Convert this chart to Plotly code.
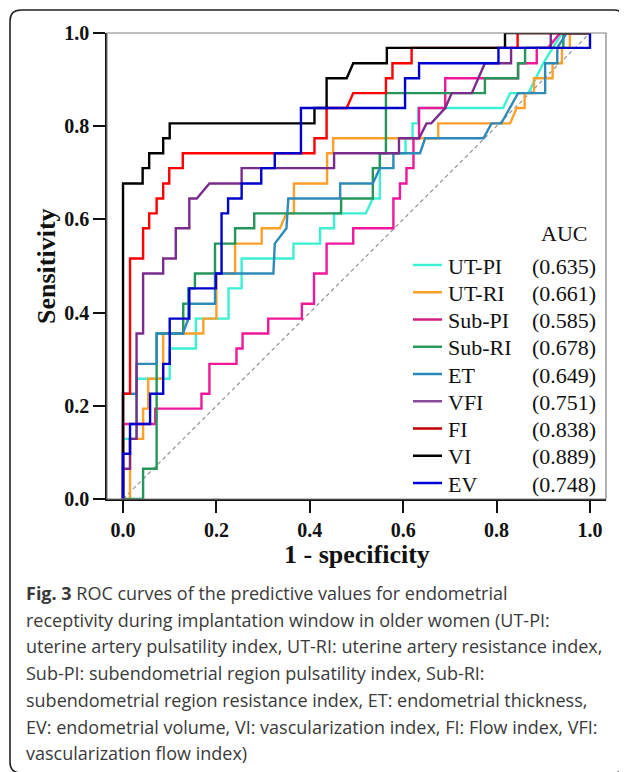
import plotly.graph_objects as go

# ---------------- data ----------------
series_names = ["UT-PI", "UT-RI", "Sub-PI", "Sub-RI", "ET", "VFI", "FI", "VI", "EV"]
auc_values = ["(0.635)", "(0.661)", "(0.585)", "(0.678)", "(0.649)", "(0.751)", "(0.838)", "(0.889)", "(0.748)"]
tick_values = [0.0, 0.2, 0.4, 0.6, 0.8, 1.0]
tick_labels = ["0.0", "0.2", "0.4", "0.6", "0.8", "1.0"]

ut_pi_x = [0, 0, 0.029, 0.029, 0.1, 0.1, 0.156, 0.156, 0.226, 0.226, 0.254, 0.254, 0.365, 0.365, 0.422, 0.422,
           0.452, 0.452, 0.52, 0.535, 0.55, 0.55, 0.605, 0.605, 0.62, 0.62, 0.632, 0.632, 0.814, 0.829, 0.868,
           0.9, 0.92, 0.94, 1.0]
ut_pi_y = [0, 0.129, 0.129, 0.258, 0.258, 0.323, 0.323, 0.387, 0.387, 0.452, 0.452, 0.516, 0.516, 0.548, 0.548,
           0.581, 0.581, 0.613, 0.613, 0.645, 0.645, 0.742, 0.742, 0.774, 0.774, 0.806, 0.806, 0.839, 0.839, 0.871,
           0.871, 0.935, 0.968, 1.0, 1.0]

ut_ri_x = [0, 0.015, 0.015, 0.043, 0.043, 0.054, 0.054, 0.086, 0.086, 0.172, 0.172, 0.2, 0.2, 0.24, 0.24, 0.297,
           0.297, 0.336, 0.35, 0.366, 0.366, 0.437, 0.437, 0.45, 0.45, 0.675, 0.675, 0.829, 0.843, 0.86, 0.86,
           0.88, 0.88, 0.92, 0.92, 0.94, 0.94, 0.957, 0.957, 1.0]
ut_ri_y = [0, 0, 0.129, 0.129, 0.194, 0.194, 0.258, 0.258, 0.355, 0.355, 0.387, 0.387, 0.484, 0.484, 0.548, 0.548,
           0.581, 0.581, 0.613, 0.613, 0.677, 0.677, 0.742, 0.742, 0.774, 0.774, 0.806, 0.806, 0.839, 0.839, 0.871,
           0.871, 0.903, 0.903, 0.935, 0.935, 0.968, 0.968, 1.0, 1.0]

sub_pi_x = [0, 0, 0.069, 0.069, 0.168, 0.168, 0.185, 0.185, 0.243, 0.243, 0.256, 0.256, 0.311, 0.311, 0.383,
            0.383, 0.409, 0.409, 0.436, 0.436, 0.493, 0.493, 0.579, 0.579, 0.593, 0.593, 0.607, 0.607, 0.622,
            0.622, 0.634, 0.634, 0.69, 0.69, 0.846, 0.846, 0.886, 0.886, 0.91, 0.936, 1.0]
sub_pi_y = [0, 0.161, 0.161, 0.194, 0.194, 0.226, 0.226, 0.29, 0.29, 0.323, 0.323, 0.355, 0.355, 0.387, 0.387,
            0.419, 0.419, 0.484, 0.484, 0.548, 0.548, 0.581, 0.581, 0.645, 0.645, 0.677, 0.677, 0.71, 0.71,
            0.774, 0.774, 0.839, 0.839, 0.903, 0.903, 0.935, 0.935, 0.968, 0.968, 1.0, 1.0]

sub_ri_x = [0, 0.043, 0.043, 0.072, 0.072, 0.129, 0.129, 0.14, 0.14, 0.154, 0.154, 0.197, 0.197, 0.24, 0.24,
            0.281, 0.281, 0.467, 0.467, 0.535, 0.535, 0.55, 0.55, 0.563, 0.563, 0.775, 0.775, 0.846, 0.846,
            0.861, 0.861, 0.943, 0.943, 1.0]
sub_ri_y = [0, 0, 0.065, 0.065, 0.355, 0.355, 0.419, 0.419, 0.452, 0.452, 0.484, 0.484, 0.548, 0.548, 0.581,
            0.581, 0.613, 0.613, 0.645, 0.645, 0.71, 0.71, 0.742, 0.742, 0.871, 0.871, 0.903, 0.903, 0.935,
            0.935, 0.968, 0.968, 1.0, 1.0]

et_x = [0, 0, 0.029, 0.029, 0.072, 0.072, 0.128, 0.14, 0.14, 0.197, 0.197, 0.322, 0.325, 0.35, 0.354, 0.465,
        0.465, 0.535, 0.55, 0.579, 0.579, 0.636, 0.647, 0.772, 0.789, 0.81, 0.846, 0.904, 0.904, 0.93, 0.93,
        0.95, 1.0]
et_y = [0, 0.226, 0.226, 0.29, 0.29, 0.355, 0.355, 0.387, 0.419, 0.419, 0.484, 0.484, 0.548, 0.581, 0.645,
        0.645, 0.677, 0.677, 0.71, 0.71, 0.742, 0.742, 0.774, 0.774, 0.806, 0.806, 0.871, 0.871, 0.935, 0.935,
        0.968, 1.0, 1.0]

vfi_x = [0, 0, 0.015, 0.015, 0.029, 0.029, 0.043, 0.043, 0.086, 0.086, 0.113, 0.113, 0.142, 0.142, 0.158,
         0.185, 0.254, 0.254, 0.452, 0.452, 0.591, 0.591, 0.634, 0.65, 0.66, 0.69, 0.704, 0.747, 0.775, 0.831,
         0.831, 0.916, 0.916, 1.0]
vfi_y = [0, 0.065, 0.065, 0.129, 0.129, 0.355, 0.355, 0.484, 0.484, 0.516, 0.516, 0.581, 0.581, 0.645, 0.645,
         0.677, 0.677, 0.71, 0.71, 0.742, 0.742, 0.774, 0.774, 0.806, 0.806, 0.839, 0.871, 0.871, 0.935, 0.935,
         0.968, 0.968, 1.0, 1.0]

fi_x = [0, 0, 0.015, 0.015, 0.043, 0.043, 0.056, 0.056, 0.072, 0.072, 0.086, 0.086, 0.099, 0.099, 0.128, 0.128,
        0.41, 0.41, 0.436, 0.436, 0.479, 0.493, 0.563, 0.563, 0.577, 0.577, 0.618, 0.618, 0.845, 0.845, 1.0]
fi_y = [0, 0.226, 0.226, 0.516, 0.516, 0.581, 0.581, 0.613, 0.613, 0.645, 0.645, 0.677, 0.677, 0.71, 0.71, 0.742,
        0.742, 0.774, 0.774, 0.839, 0.839, 0.871, 0.871, 0.903, 0.903, 0.935, 0.935, 0.968, 0.968, 1.0, 1.0]

vi_x = [0, 0, 0.042, 0.042, 0.056, 0.056, 0.086, 0.086, 0.1, 0.1, 0.41, 0.41, 0.436, 0.436, 0.479, 0.493, 0.565,
        0.565, 0.818, 0.818, 1.0]
vi_y = [0, 0.677, 0.677, 0.71, 0.71, 0.742, 0.742, 0.774, 0.774, 0.806, 0.806, 0.839, 0.839, 0.903, 0.903, 0.935,
        0.935, 0.968, 0.968, 1.0, 1.0]

ev_x = [0, 0, 0.015, 0.015, 0.058, 0.058, 0.086, 0.086, 0.1, 0.1, 0.142, 0.142, 0.199, 0.199, 0.211, 0.211,
        0.225, 0.225, 0.254, 0.254, 0.296, 0.296, 0.325, 0.325, 0.381, 0.381, 0.604, 0.604, 0.634, 0.634, 0.804,
        0.804, 1.0, 1.0]
ev_y = [0, 0.097, 0.097, 0.161, 0.161, 0.226, 0.226, 0.29, 0.29, 0.387, 0.387, 0.452, 0.452, 0.484, 0.484,
        0.613, 0.613, 0.645, 0.645, 0.677, 0.677, 0.71, 0.71, 0.742, 0.742, 0.839, 0.839, 0.903, 0.903, 0.935,
        0.935, 0.968, 0.968, 1.0]

ref_x = [0, 1]
ref_y = [0, 1]

curves_x = [ut_pi_x, ut_ri_x, sub_pi_x, sub_ri_x, et_x, vfi_x, fi_x, vi_x, ev_x]
curves_y = [ut_pi_y, ut_ri_y, sub_pi_y, sub_ri_y, et_y, vfi_y, fi_y, vi_y, ev_y]

caption_lines = [
    "<b>Fig. 3</b> ROC curves of the predictive values for endometrial",
    "receptivity during implantation window in older women (UT-PI:",
    "uterine artery pulsatility index, UT-RI: uterine artery resistance index,",
    "Sub-PI: subendometrial region pulsatility index, Sub-RI:",
    "subendometrial region resistance index, ET: endometrial thickness,",
    "EV: endometrial volume, VI: vascularization index, FI: Flow index, VFI:",
    "vascularization flow index)",
]

# ---------------- styles ----------------
line_colors = ["#3CF0D4", "#FFA02A", "#F0189A", "#24965A", "#2E8AB8", "#7A2C8C", "#FF0000", "#000000", "#0000CC"]
key_colors = ["#3CF0D4", "#FFA02A", "#D0207F", "#2A9A5C", "#2A88B8", "#8A4A9A", "#C00000", "#000000", "#0000DD"]

# page body has an 8px margin; work in window pixels and shift into figure pixels
OFF = 8
W, H = 627 - OFF, 772 - OFF
L, R, T, B = 107 - OFF, 606 - OFF, 33 - OFF, 499 - OFF


def px(x):
    return (x - OFF - L) / (R - L)


def py(y):
    return (B - (y - OFF)) / (B - T)


fig = go.Figure()
fig.add_trace(go.Scatter(x=ref_x, y=ref_y, mode="lines",
                         line=dict(color="#9a9a9a", width=1.3, dash="4px,3px"),
                         showlegend=False, hoverinfo="skip"))
for nm, xs, ys, c in zip(series_names, curves_x, curves_y, line_colors):
    fig.add_trace(go.Scatter(x=xs, y=ys, mode="lines", name=nm,
                             line=dict(color=c, width=2.4), showlegend=False))

serif = "Liberation Serif"
annotations = []
# axis titles
annotations.append(dict(x=px(357), y=py(554), xref="paper", yref="paper", text="1 - specificity",
                        showarrow=False, xanchor="center", yanchor="middle",
                        font=dict(family=serif, size=26, color="#111", weight="bold")))
annotations.append(dict(x=px(46), y=py(266), xref="paper", yref="paper", text="Sensitivity", textangle=-90,
                        showarrow=False, xanchor="center", yanchor="middle",
                        font=dict(family=serif, size=26, color="#111", weight="bold")))
# legend
annotations.append(dict(x=px(564), y=py(233), xref="paper", yref="paper", text="AUC", showarrow=False,
                        xanchor="center", yanchor="middle", font=dict(family=serif, size=22, color="#111")))
shapes = []
for i, (nm, auc, kc) in enumerate(zip(series_names, auc_values, key_colors)):
    yy = 265 + 27.25 * i
    shapes.append(dict(type="line", xref="paper", yref="paper", x0=px(413), x1=px(442), y0=py(yy), y1=py(yy),
                       line=dict(color=kc, width=2.5)))
    annotations.append(dict(x=px(446), y=py(yy + 1), xref="paper", yref="paper", text=nm, showarrow=False,
                            xanchor="left", yanchor="middle", font=dict(family=serif, size=22, color="#111")))
    annotations.append(dict(x=px(598), y=py(yy + 1), xref="paper", yref="paper", text=auc, showarrow=False,
                            xanchor="right", yanchor="middle", font=dict(family=serif, size=22, color="#111")))

# caption
for i, line in enumerate(caption_lines):
    yy = 593 + 26.7 * i
    annotations.append(dict(x=px(24), y=py(yy), xref="paper", yref="paper", text=line, showarrow=False,
                            xanchor="left", yanchor="middle",
                            font=dict(family="Open Sans", size=18, color="#3a3a3a")))

# plot frame (top/right grey)
shapes.append(dict(type="rect", xref="paper", yref="paper", x0=0, x1=1, y0=0, y1=1,
                   line=dict(color="#808080", width=1.2), layer="above"))

# rounded outer box
bx0, bx1, by0, by1, rr = 10, 625, 10, 773, 11
path = (f"M {px(bx0 + rr)},{py(by0)} L {px(bx1 - rr)},{py(by0)} Q {px(bx1)},{py(by0)} {px(bx1)},{py(by0 + rr)} "
        f"L {px(bx1)},{py(by1 - rr)} Q {px(bx1)},{py(by1)} {px(bx1 - rr)},{py(by1)} "
        f"L {px(bx0 + rr)},{py(by1)} Q {px(bx0)},{py(by1)} {px(bx0)},{py(by1 - rr)} "
        f"L {px(bx0)},{py(by0 + rr)} Q {px(bx0)},{py(by0)} {px(bx0 + rr)},{py(by0)} Z")
shapes.append(dict(type="path", xref="paper", yref="paper", path=path, line=dict(color="#222", width=1.6)))

axis_common = dict(showgrid=False, zeroline=False, showline=True, linecolor="#111", linewidth=1.6,
                   ticks="outside", ticklen=12, tickwidth=1.6, tickcolor="#111",
                   tickvals=tick_values, ticktext=tick_labels,
                   tickfont=dict(family=serif, size=20, color="#111", weight="bold"))

fig.update_layout(
    width=W, height=H,
    margin=dict(l=L, r=W - R, t=T, b=H - B, pad=0),
    paper_bgcolor="white", plot_bgcolor="white",
    xaxis=dict(range=[-0.0343, 1.0343], **axis_common),
    yaxis=dict(range=[0, 1], **axis_common),
    annotations=annotations, shapes=shapes, showlegend=False,
)

fig.write_html("out.html")
